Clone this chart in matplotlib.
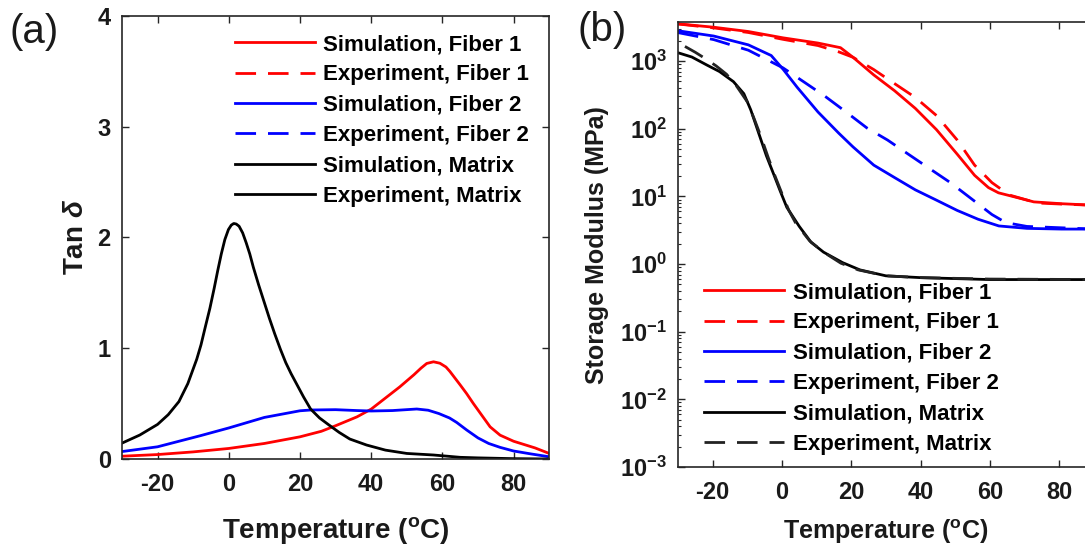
import numpy as np
import matplotlib.pyplot as plt
from matplotlib.lines import Line2D
from matplotlib.ticker import LogLocator, NullFormatter

plt.rcParams['font.family'] = ['Liberation Sans', 'DejaVu Sans']
plt.rcParams['font.weight'] = 'bold'
plt.rcParams['axes.labelweight'] = 'bold'
plt.rcParams['axes.unicode_minus'] = False
plt.rcParams['mathtext.fontset'] = 'custom'
plt.rcParams['mathtext.rm'] = 'Liberation Sans:bold'
plt.rcParams['mathtext.bf'] = 'Liberation Sans:bold'
plt.rcParams['mathtext.it'] = 'Liberation Sans:italic'

# ---- (a) tan delta ----
tan_t_f1 = [-30, -20, -10, 0, 10, 20, 26, 30, 36, 40, 44, 48, 52, 54, 55.6, 57.5, 59.3,
            61, 62.1, 65, 66.8, 68.7, 70.6, 73.4, 76.2, 80, 82, 86, 90]
tan_f1 = [0.025, 0.04, 0.064, 0.095, 0.14, 0.20, 0.25, 0.30, 0.38, 0.45, 0.55, 0.65,
          0.76, 0.82, 0.862, 0.877, 0.864, 0.83, 0.79, 0.668, 0.59, 0.50, 0.415, 0.29,
          0.215, 0.16, 0.14, 0.10, 0.05]
tan_t_f2 = [-30, -20, -8, 0, 10, 20, 23, 30, 36, 40, 46, 52.8, 56, 59, 62, 64, 66.8,
            70, 73, 76.2, 80, 85, 90]
tan_f2 = [0.067, 0.11, 0.21, 0.28, 0.375, 0.435, 0.442, 0.445, 0.437, 0.433, 0.437,
          0.451, 0.44, 0.41, 0.37, 0.33, 0.262, 0.19, 0.14, 0.105, 0.072, 0.045, 0.02]
tan_t_m = [-30, -25, -20, -17, -14, -11.5, -9, -7.8, -6.6, -5.3, -4.1, -3.1, -2.1, -1.1,
           -0.1, 0.7, 1.4, 2.1, 2.9, 3.9, 4.9, 5.9, 6.9, 8.4, 9.9, 11.4, 12.9, 14.5, 16,
           17.5, 19, 21, 23, 25.5, 28, 31, 34, 38.7, 44, 50, 57.5, 65, 70, 80, 90]
tan_m = [0.143, 0.216, 0.312, 0.40, 0.518, 0.68, 0.90, 1.03, 1.19, 1.36, 1.54, 1.70,
         1.85, 1.98, 2.07, 2.11, 2.125, 2.12, 2.10, 2.04, 1.95, 1.85, 1.73, 1.57, 1.42,
         1.27, 1.13, 0.99, 0.87, 0.77, 0.68, 0.56, 0.45, 0.37, 0.31, 0.24, 0.18, 0.126,
         0.08, 0.05, 0.036, 0.015, 0.01, 0.003, 0.0]

# ---- (b) storage modulus (MPa) ----
sm_t_sim_f1 = [-30, -19.7, -9.7, 0.3, 10.4, 16.9, 20.5, 26.5, 32.5, 38.5, 44.6, 50.6,
               55.6, 59.6, 62.5, 66.6, 72.7, 80.7, 90]
sm_sim_f1 = [3560, 3170, 2740, 2210, 1850, 1580, 1140, 625, 365, 200, 97, 42, 20.5,
             13.5, 11.3, 10, 8.3, 7.8, 7.4]
sm_t_exp_f1 = [-30, -19.7, -9.7, 0.3, 10.4, 16.4, 20.5, 26.5, 32.5, 38.5, 44.6, 50.6,
               55.6, 60.6, 65.6, 73.7, 80.7, 90]
sm_exp_f1 = [3540, 3100, 2650, 2100, 1700, 1370, 1140, 750, 465, 290, 157, 68, 29, 16,
             10.5, 8.0, 7.7, 7.4]
sm_t_sim_f2 = [-30, -19.7, -9.7, -3.1, 0.4, 4.4, 10.4, 16.4, 20.5, 26.5, 32.5, 38.5,
               44.6, 50.6, 56.6, 62.6, 70.7, 80.7, 90]
sm_sim_f2 = [2810, 2350, 1740, 1210, 750, 410, 177, 86, 54, 29, 19, 12.5, 8.8, 6.2,
             4.6, 3.66, 3.37, 3.29, 3.29]
sm_t_exp_f2 = [-30, -19.7, -9.7, 0.3, 6.4, 12.4, 18.5, 24.5, 30.5, 36.5, 42.5, 48.6,
               54.6, 60.6, 64.6, 70.7, 90]
sm_exp_f2 = [2640, 2080, 1450, 795, 490, 303, 177, 103, 68, 42, 26, 16, 9.3, 5.4, 4.1,
             3.6, 3.29]
sm_t_sim_m = [-30, -26, -21.7, -18, -14, -11, -9, -7, -4.5, -2.5, -0.5, 1.4, 5, 8.4,
              12, 17.5, 22.5, 30, 40, 60, 90]
sm_sim_m = [1330, 1150, 877, 700, 497, 330, 190, 95, 40, 22, 12, 6.9, 3.6, 2.1, 1.5,
            1.05, 0.82, 0.67, 0.63, 0.59, 0.59]
sm_t_exp_m = [-28, -25, -22, -19, -16, -13, -10, -8, -6, -4, -2, 0, 2, 4, 8, 12, 17,
              22, 30, 40, 60, 90]
sm_exp_m = [1650, 1350, 1080, 850, 640, 420, 250, 140, 75, 38, 20, 11, 6.2, 4.0, 2.2,
            1.5, 1.03, 0.82, 0.67, 0.63, 0.60, 0.59]

labels = ['Simulation, Fiber 1', 'Experiment, Fiber 1', 'Simulation, Fiber 2',
          'Experiment, Fiber 2', 'Simulation, Matrix', 'Experiment, Matrix']

LW = 2.0
DASH = (0, (7.4, 4.3))
TXT = '#1a1a1a'

fig = plt.figure(figsize=(10.85, 5.52), dpi=100)
ax1 = fig.add_axes([0.1124, 0.1685, 0.3938, 0.8031])
ax2 = fig.add_axes([0.6249, 0.1540, 0.3832, 0.8056])

# panel (a)
ax1.plot(tan_t_f1, tan_f1, color='red', lw=LW)
ax1.plot(tan_t_f2, tan_f2, color='blue', lw=LW)
ax1.plot(tan_t_m, tan_m, color='black', lw=LW)
ax1.set_xlim(-30, 90)
ax1.set_ylim(0, 4)
ax1.set_xticks([-20, 0, 20, 40, 60, 80])
ax1.set_yticks([0, 1, 2, 3, 4])
ax1.set_xlabel(r'Temperature ($^{\mathdefault{o}}$C)', fontsize=20, labelpad=14, color=TXT)
ax1.set_ylabel(r'Tan $\delta$', fontsize=20, labelpad=6, color=TXT)
h1 = [Line2D([], [], color='red', lw=LW),
      Line2D([], [], color='red', lw=LW, ls=DASH),
      Line2D([], [], color='blue', lw=LW),
      Line2D([], [], color='blue', lw=LW, ls=DASH),
      Line2D([], [], color='black', lw=LW),
      Line2D([], [], color='black', lw=LW)]
ax1.legend(h1, labels, loc='upper left', bbox_to_anchor=(234.6 / 1085, 1 - 34 / 552),
           bbox_transform=fig.transFigure, frameon=False, fontsize=16,
           handlelength=3.6, handletextpad=0.4, labelspacing=0.42, borderpad=0,
           borderaxespad=0)

# panel (b)
ax2.plot(sm_t_sim_f1, sm_sim_f1, color='red', lw=LW, label=labels[0])
ax2.plot(sm_t_exp_f1, sm_exp_f1, color='red', lw=LW, ls=DASH, label=labels[1])
ax2.plot(sm_t_sim_f2, sm_sim_f2, color='blue', lw=LW, label=labels[2])
ax2.plot(sm_t_exp_f2, sm_exp_f2, color='blue', lw=LW, ls=DASH, label=labels[3])
ax2.plot(sm_t_sim_m, sm_sim_m, color='black', lw=LW, label=labels[4])
ax2.plot(sm_t_exp_m, sm_exp_m, color='#222222', lw=LW, ls=DASH, label=labels[5])
ax2.set_yscale('log')
ax2.set_xlim(-30, 90)
ax2.set_ylim(1e-3, 10 ** 3.574)
ax2.set_xticks([-20, 0, 20, 40, 60, 80])
ax2.yaxis.set_major_locator(LogLocator(base=10, numticks=10))
ax2.yaxis.set_minor_locator(LogLocator(base=10, subs=np.arange(2, 10), numticks=10))
ax2.yaxis.set_minor_formatter(NullFormatter())
ax2.set_xlabel(r'Temperature ($^{\mathdefault{o}}$C)', fontsize=18, labelpad=10, color=TXT)
ax2.set_ylabel('Storage Modulus (MPa)', fontsize=18, labelpad=8, color=TXT)
ax2.legend(loc='upper left', bbox_to_anchor=(704.4 / 1085, 1 - 282 / 552),
           bbox_transform=fig.transFigure, frameon=False, fontsize=16,
           handlelength=3.6, handletextpad=0.4, labelspacing=0.42, borderpad=0,
           borderaxespad=0)

for ax in (ax1, ax2):
    ax.tick_params(which='both', direction='in', top=True, right=True,
                   colors='#262626', labelcolor=TXT)
    ax.tick_params(which='major', length=5, width=1.0, labelsize=17)
    ax.tick_params(which='minor', length=2.5, width=0.8)
    ax.tick_params(axis='x', pad=10)
    ax.tick_params(axis='y', pad=8)
    for s in ax.spines.values():
        s.set_linewidth(1.2)
        s.set_color('#262626')

fig.text(9 / 1085, 1 - 32 / 552, '(a)', fontsize=29, fontweight='normal',
         ha='left', va='center', color=TXT)
fig.text(577 / 1085, 1 - 30 / 552, '(b)', fontsize=29, fontweight='normal',
         ha='left', va='center', color=TXT)

fig.savefig('out.png', dpi=100)
